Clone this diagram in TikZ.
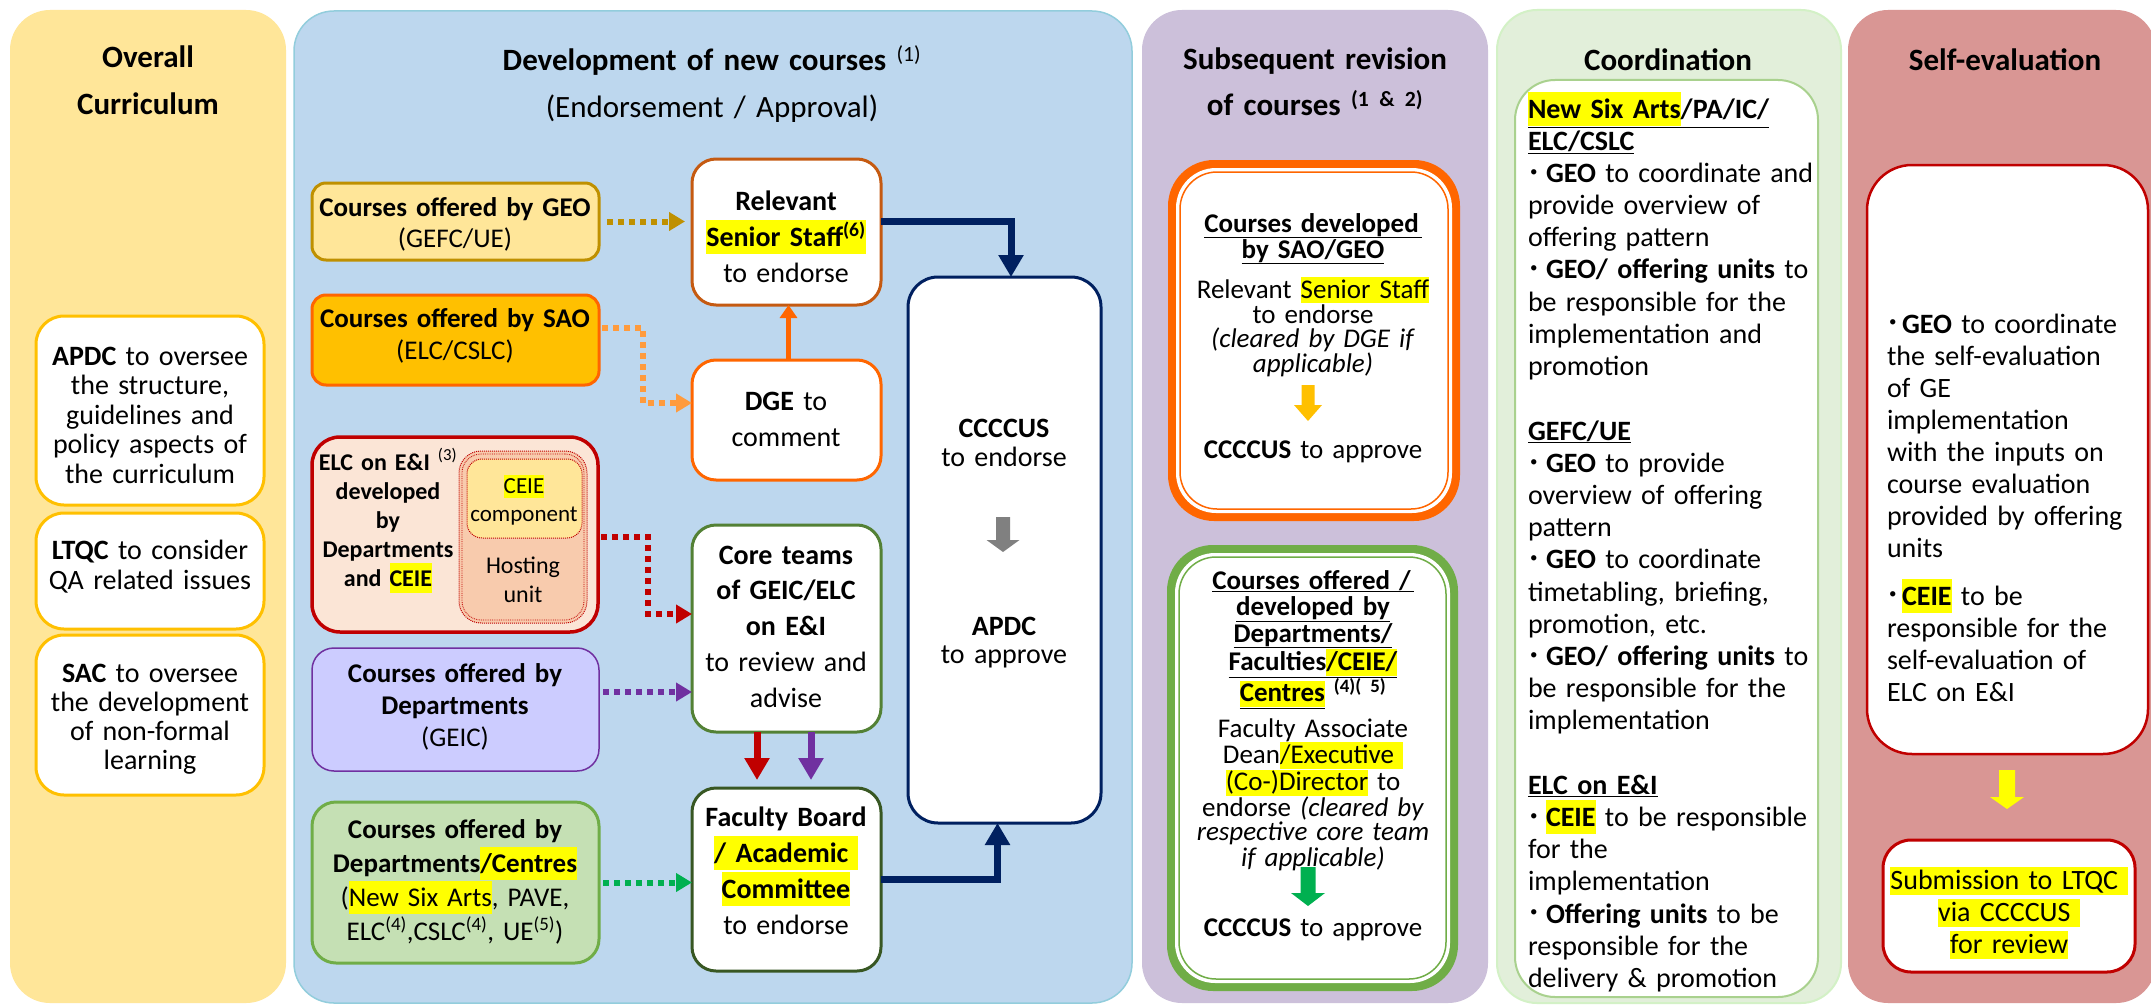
\documentclass[tikz,border=0pt]{standalone}
\usepackage{fontspec}
\setmainfont{Carlito}
\usetikzlibrary{arrows.meta}
\definecolor{pyellow}{HTML}{FFE699}
\definecolor{pblue}{HTML}{BDD7EE}
\definecolor{pblueb}{HTML}{92CDDC}
\definecolor{ppurple}{HTML}{CCC0DA}
\definecolor{pgreen}{HTML}{E2EFDA}
\definecolor{pgreenb}{HTML}{D3F1C6}
\definecolor{prose}{HTML}{D99694}
\definecolor{gold}{HTML}{FFC000}
\definecolor{darkgold}{HTML}{BF9000}
\definecolor{orng}{HTML}{FF6600}
\definecolor{lorng}{HTML}{FF9B3D}
\definecolor{brorng}{HTML}{C55A11}
\definecolor{navy}{HTML}{002060}
\definecolor{dred}{HTML}{C00000}
\definecolor{purp}{HTML}{7030A0}
\definecolor{lav}{HTML}{CCCCFF}
\definecolor{lgreen}{HTML}{C5E0B4}
\definecolor{mgreen}{HTML}{70AD47}
\definecolor{dgreen}{HTML}{538135}
\definecolor{ddgreen}{HTML}{385723}
\definecolor{brgreen}{HTML}{00B050}
\definecolor{peach}{HTML}{FBE5D6}
\definecolor{dpeach}{HTML}{F8CBAD}
\definecolor{hly}{HTML}{FFFF00}
\definecolor{cgreenb}{HTML}{A9D18E}
\definecolor{grayarr}{HTML}{808080}
\setlength{\lineskiplimit}{-1000pt}
\newcommand\fs[2]{\fontsize{#1}{#2}\selectfont}
\newcommand\hl[1]{{\setlength{\fboxsep}{0pt}\colorbox{hly}{\rule[-0.28em]{0pt}{1.22em}#1}}}
\newcommand\hlt[1]{{\setlength{\fboxsep}{0pt}\colorbox{hly}{\rule[-0.2em]{0pt}{0.98em}#1}}}
\newcommand\bitem[1]{\par\noindent\hangindent=#1\hangafter=1\makebox[#1][l]{\hspace{2pt}\raisebox{0.22em}{\fontsize{15}{15}\selectfont •}}}
\newcommand\bx[6]{\node[#6, minimum width={(#4-#2)*1pt}, minimum height={(#5-#3)*1pt}] (#1) at ({(#2+#4)/2},{(#3+#5)/2}) {};}
\newcommand\barrow[7]{\fill[#7] ({#1-#4},#2) -- ({#1+#4},#2) -- ({#1+#4},{#3-#6}) -- ({#1+#5},{#3-#6}) -- (#1,#3) -- ({#1-#5},{#3-#6}) -- ({#1-#4},{#3-#6}) -- cycle;}
\tikzset{
  panel/.style={rounded corners=40pt},
  srcbox/.style={rounded corners=14pt, line width=3pt},
  flowbox/.style={rounded corners=24pt, line width=3pt, fill=white},
  gbox/.style={rounded corners=28pt, line width=3pt, draw=gold, fill=white},
  tx/.style={anchor=base, align=center, text width=300pt},
  dotarr/.style={line width=6pt, dash pattern=on 6pt off 5pt, -{Triangle[width=18pt,length=16pt]}},
  solarr/.style={line width=7pt, line join=miter, -{Triangle[width=24pt,length=22pt]}},
}
\begin{document}
\begin{tikzpicture}[x=1pt,y=-1pt, every node/.style={inner sep=0pt, outer sep=0pt}]
\useasboundingbox (0,0) rectangle (2151,1006);
\clip (0,0) rectangle (2151,1006);
\fill[white] (0,0) rectangle (2151,1006);

% ---------- Panel 1: Overall Curriculum ----------
\bx{p1}{10}{10}{286}{1003}{panel, fill=pyellow}
\node[tx, font=\fs{31}{47}\bfseries] (t1) at (148,68) {Overall\\Curriculum};
\bx{apdcbox}{36}{316}{264}{505}{gbox}
\bx{ltqcbox}{36}{513}{264}{629}{gbox}
\bx{sacbox}{36}{635}{264}{795}{gbox}
\node[tx, font=\fs{28}{29.5}] (apdctx) at (150,365) {\textbf{APDC} to oversee\\the structure,\\guidelines and\\policy aspects of\\the curriculum};
\node[tx, font=\fs{28}{30}] (ltqctx) at (150,559) {\textbf{LTQC} to consider\\QA related issues};
\node[tx, font=\fs{28}{29}] (sactx) at (150,682) {\textbf{SAC} to oversee\\the development\\of non-formal\\learning};

% ---------- Panel 2: Development of new courses ----------
\bx{p2}{294}{11}{1132}{1003}{panel, fill=pblue, draw=pblueb, line width=1.5pt}
\node[tx, text width=600pt, font=\fs{31}{47}] (t2) at (712,71) {\textbf{Development of new courses} \textsuperscript{(1)}\\(Endorsement / Approval)};

\bx{geo}{312}{183}{599}{260}{srcbox, fill=pyellow, draw=darkgold}
\bx{sao}{312}{295}{599}{385}{srcbox, fill=gold, draw=orng}
\bx{elc}{312}{437}{598}{632}{rounded corners=28pt, line width=3.5pt, fill=peach, draw=dred}
\bx{host}{459}{451}{587}{623}{rounded corners=22pt, fill=dpeach, draw=dred, densely dotted, line width=1pt}
\bx{hostin}{462}{454}{584}{620}{rounded corners=19pt, draw=dred, densely dotted, line width=0.8pt}
\bx{comp}{467}{459}{582}{538}{rounded corners=15pt, fill=pyellow, draw=dred, densely dotted, line width=1pt}
\bx{geic}{312}{648}{599}{771}{rounded corners=22pt, line width=1.5pt, fill=lav, draw=purp}
\bx{grn}{312}{802}{599}{963}{rounded corners=24pt, line width=3pt, fill=lgreen, draw=mgreen}

\bx{ss}{692}{159}{881}{305}{flowbox, draw=brorng}
\bx{dge}{692}{360}{881}{480}{flowbox, draw=orng}
\bx{core}{692}{525}{881}{732}{flowbox, draw=dgreen}
\bx{fb}{692}{788}{881}{971}{flowbox, draw=ddgreen}
\bx{cc}{908}{277}{1101}{823}{flowbox, rounded corners=30pt, draw=navy}

% connectors
\draw[dotarr, darkgold, shorten <=8pt, shorten >=7pt] (geo.east) -- (geo.east -| ss.west);
\coordinate (bendA) at (643,340);
\coordinate (bendB) at (648,535);
\draw[dotarr, lorng, shorten <=3pt] ([yshift=12pt]sao.east) -- ([yshift=12pt]sao.east -| bendA) |- ([yshift=17pt]dge.west);
\draw[dotarr, dred, shorten <=3pt] ([yshift=-2.5pt]elc.east) -- ([yshift=-2.5pt]elc.east -| bendB) |- ([yshift=14.5pt]core.west);
\draw[dotarr, purp, shorten <=4pt] ([yshift=17.5pt]geic.east) -- ([yshift=17.5pt]geic.east -| core.west);
\draw[dotarr, brgreen, shorten <=4pt] (grn.east) -- (grn.east -| fb.west);
\draw[orng, line width=5pt, -{Triangle[width=17pt,length=13pt]}] ([xshift=2pt]dge.north) -- ([xshift=2pt]ss.south);
\draw[solarr, navy] ([yshift=11pt]ss.east) -| ([xshift=6.5pt]cc.north);
\draw[solarr, navy] (fb.east) -| ([xshift=-7pt]cc.south);
\draw[solarr, dred, shorten >=8pt] ([xshift=-29.5pt]core.south) -- ([xshift=-29.5pt]fb.north);
\draw[solarr, purp, shorten >=8pt] ([xshift=24.5pt]core.south) -- ([xshift=24.5pt]fb.north);
\barrow{1003}{517}{552}{7}{16.5}{12}{grayarr}

% texts panel 2
\node[tx, font=\fs{27}{31}] (geotx) at (455,216) {\textbf{Courses offered by GEO}\\(GEFC/UE)};
\node[tx, font=\fs{27}{32}] (saotx) at (455,327) {\textbf{Courses offered by SAO}\\(ELC/CSLC)};
\node[tx, text width=150pt, font=\fs{24}{29}\bfseries] (elctx) at (388,470) {ELC on E\&I \textsuperscript{\mdseries(3)}\\developed\\by\\Departments\\and \hl{CEIE}};
\node[tx, text width=120pt, font=\fs{23}{28}] (comptx) at (524,493) {\hlt{CEIE}\\component};
\node[tx, text width=120pt, font=\fs{24}{29}] (hosttx) at (523,573) {Hosting\\unit};
\node[tx, font=\fs{27}{32}] (geictx) at (455,682) {\textbf{Courses offered by}\\\textbf{Departments}\\(GEIC)};
\node[tx, font=\fs{27}{34}] (grntx) at (455,838) {\textbf{Courses offered by}\\\textbf{Departments\hl{/Centres}}\\(\hl{New Six Arts}, PAVE,\\ELC\textsuperscript{(4)},CSLC\textsuperscript{(4)}, UE\textsuperscript{(5)})};
\node[tx, text width=190pt, font=\fs{28}{36}] (sstx) at (786,210) {\textbf{Relevant}\\\hl{\textbf{Senior Staff\textsuperscript{(6)}}}\\to endorse};
\node[tx, text width=190pt, font=\fs{28}{36}] (dgetx) at (786,410) {\textbf{DGE} to\\comment};
\node[tx, text width=190pt, font=\fs{28}{35.8}] (coretx) at (786,564) {\textbf{Core teams}\\\textbf{of GEIC/ELC}\\\textbf{on E\&I}\\to review and\\advise};
\node[tx, text width=190pt, font=\fs{28}{36.3}] (fbtx) at (786,826) {\textbf{Faculty Board}\\\hl{\textbf{/ Academic }}\\\hl{\textbf{Committee}}\\to endorse};
\node[tx, text width=190pt, font=\fs{28}{29}] (cctx) at (1004,437) {\textbf{CCCCUS}\\to endorse};
\node[tx, text width=190pt, font=\fs{28}{28}] (apdc2tx) at (1004,635) {\textbf{APDC}\\to approve};

% ---------- Panel 3: Subsequent revision ----------
\bx{p3}{1142}{10}{1488}{1003}{panel, fill=ppurple}
\node[tx, font=\fs{31}{46}\bfseries] (t3) at (1315,70) {Subsequent revision\\of courses \textsuperscript{(1 \& 2)}};
\bx{ob}{1168}{160}{1460}{521}{rounded corners=46pt, fill=orng}
\bx{obw}{1176}{168}{1452}{513}{rounded corners=40pt, fill=white}
\bx{obl}{1180}{172}{1448}{509}{rounded corners=37pt, draw=orng, line width=1.5pt}
\bx{gb}{1167}{545}{1458}{991}{rounded corners=46pt, fill=mgreen}
\bx{gbw}{1175}{553}{1450}{983}{rounded corners=40pt, fill=white}
\bx{gbl}{1179}{557}{1446}{979}{rounded corners=37pt, draw=mgreen, line width=1.5pt}
\node[tx, font=\fs{27}{26}\bfseries] (obh) at (1313,232) {\underline{Courses developed\hspace{3pt}}\\\underline{by SAO/GEO}};
\node[tx, font=\fs{27}{24}] (obb) at (1313,298) {Relevant \hlt{Senior Staff}\\to endorse\\\textit{(cleared by DGE if}\\\textit{applicable)}};
\barrow{1308}{385}{421}{6.5}{14}{16}{gold}
\node[tx, font=\fs{27}{24}] (obc) at (1313,458) {\textbf{CCCCUS} to approve};
\node[tx, font=\fs{27}{26.5}\bfseries] (gbh) at (1313,589) {\underline{Courses offered /\hspace{3pt}}\\\underline{developed by}\\\underline{Departments/}\\\underline{Faculties\hlt{/CEIE/}}\\\underline{\hlt{Centres}} \textsuperscript{(4)( 5)}};
\node[tx, font=\fs{27}{24}] (gbb) at (1313,737) {Faculty Associate\\Dean\hlt{/Executive }\\\hlt{(Co-)Director} to\\endorse \textit{(cleared by}\\\textit{respective core team}\\\textit{if applicable)}};
\barrow{1308}{867}{906}{7.5}{17}{13}{brgreen}
\node[tx, font=\fs{27}{24}] (gbc) at (1313,936) {\textbf{CCCCUS} to approve};

% ---------- Panel 4: Coordination ----------
\bx{p4}{1497}{10}{1841}{1003}{panel, fill=pgreen, draw=pgreenb, line width=2pt}
\node[tx, font=\fs{31}{46}\bfseries] (t4) at (1668,71) {Coordination};
\bx{coordbox}{1515}{80}{1818}{997}{rounded corners=40pt, fill=white, draw=cgreenb, line width=2pt}
\node[anchor=base west, text width=300pt, align=left, font=\fs{28}{32.2}] (coordtx) at (1528,118) {%
\underline{\textbf{\hl{New Six Arts}/PA/IC/}}\\
\underline{\textbf{ELC/CSLC}}
\bitem{18pt}\textbf{GEO} to coordinate and\\provide overview of\\offering pattern
\bitem{18pt}\textbf{GEO/ offering units} to\\be responsible for the\\implementation and\\promotion\par
\vspace{32.2pt}
\noindent\underline{\textbf{GEFC/UE}}
\bitem{18pt}\textbf{GEO} to provide\\overview of offering\\pattern
\bitem{18pt}\textbf{GEO} to coordinate\\timetabling, briefing,\\promotion, etc.
\bitem{18pt}\textbf{GEO/ offering units} to\\be responsible for the\\implementation\par
\vspace{32.2pt}
\noindent\underline{\textbf{ELC on E\&I}}
\bitem{18pt}\hl{\textbf{CEIE}} to be responsible\\for the\\implementation
\bitem{18pt}\textbf{Offering units} to be\\responsible for the\\delivery \& promotion};

% ---------- Panel 5: Self-evaluation ----------
\bx{p5}{1848}{10}{2156}{1003}{panel, fill=prose}
\node[tx, font=\fs{31}{46}\bfseries] (t5) at (2005,71) {Self-evaluation};
\bx{sebox}{1867}{165}{2148}{754}{rounded corners=45pt, fill=white, draw=dred, line width=2.5pt}
\node[anchor=base west, text width=270pt, align=left, font=\fs{28}{32}] (setx) at (1887,301) {%
\bitem{15pt}\textbf{GEO} to coordinate\\the self-evaluation\\of GE\\implementation\\with the inputs on\\course evaluation\\provided by offering\\units\par
\vspace{16pt}
\bitem{15pt}\hl{\textbf{CEIE}} to be\\responsible for the\\self-evaluation of\\ELC on E\&I};
\barrow{2007}{770}{809}{8}{17}{12}{hly}
\bx{subbox}{1883}{840}{2135}{972}{rounded corners=28pt, fill=white, draw=dred, line width=3pt}
\node[tx, font=\fs{28}{32}] (subtx) at (2009,889) {\hlt{Submission to LTQC }\\\hlt{via CCCCUS }\\\hlt{for review}};
\end{tikzpicture}
\end{document}
